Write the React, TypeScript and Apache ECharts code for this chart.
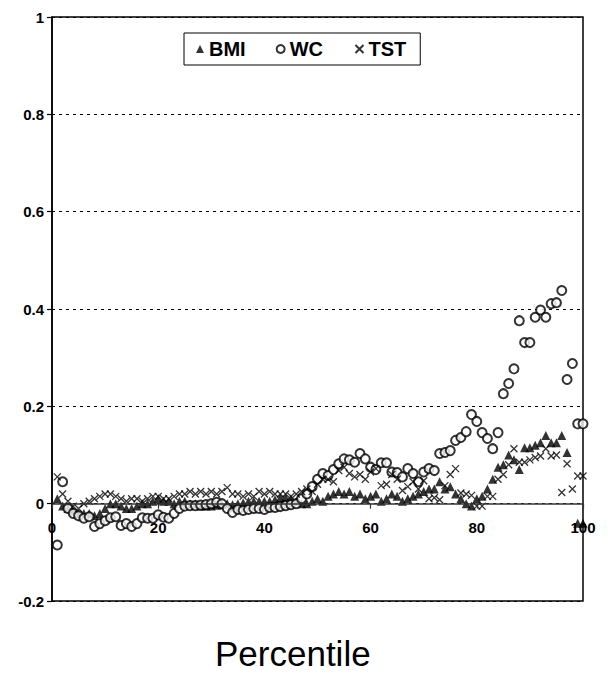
import React, { useEffect, useRef } from "react";
import * as echarts from "echarts";

// Percentile positions 1..100
const percentiles: number[] = Array.from({ length: 100 }, (_, i) => i + 1);

// Correlation-style coefficients per percentile for each measure
const bmiValues: (number | null)[] = [
  0.01, -0.005, -0.01, -0.015, -0.02, -0.02, -0.02, -0.025, -0.02, -0.01,
  0.0, 0.0, -0.005, -0.01, -0.01, -0.005, 0.0, 0.0, 0.005, 0.01,
  0.005, 0.005, 0.0, 0.005, 0.005, 0.0, 0.0, -0.005, -0.005, -0.005,
  -0.003, -0.002, 0.0, -0.002, 0.0, 0.002, 0.005, 0.005, 0.005, 0.005,
  0.005, 0.008, 0.012, 0.012, 0.01, 0.005, 0.0, 0.0, 0.005, 0.01,
  0.005, 0.015, 0.02, 0.025, 0.02, 0.025, 0.015, 0.02, 0.01, 0.015,
  0.02, 0.005, 0.01, 0.02, 0.015, 0.005, 0.01, 0.015, 0.02, 0.025,
  0.03, 0.03, 0.045, 0.03, 0.035, 0.02, 0.01, 0.0, -0.005, 0.01,
  0.015, 0.03, 0.05, 0.075, 0.08, 0.1, 0.09, 0.07, 0.115, 0.115,
  0.12, 0.125, 0.14, 0.125, 0.125, 0.14, 0.105, null, -0.04, -0.04,
];

const wcValues: (number | null)[] = [
  -0.085, 0.045, -0.01, -0.02, -0.025, -0.03, -0.027, -0.047, -0.041, -0.035,
  -0.029, -0.027, -0.045, -0.041, -0.047, -0.041, -0.029, -0.03, -0.03, -0.023,
  -0.028, -0.03, -0.02, -0.01, -0.005, -0.004, -0.004, -0.003, -0.002, 0.0,
  0.003, 0.0, -0.01, -0.018, -0.012, -0.014, -0.012, -0.01, -0.01, -0.012,
  -0.008, -0.008, -0.006, -0.004, -0.002, 0.0, 0.01, 0.02, 0.035, 0.05,
  0.062, 0.058, 0.07, 0.082, 0.092, 0.09, 0.085, 0.103, 0.092, 0.075,
  0.07, 0.084, 0.084, 0.065, 0.064, 0.055, 0.072, 0.062, 0.045, 0.065,
  0.072, 0.068, 0.103, 0.105, 0.109, 0.13, 0.136, 0.148, 0.183, 0.169,
  0.146, 0.134, 0.113, 0.146, 0.226, 0.247, 0.277, 0.376, 0.331, 0.331,
  0.383, 0.398, 0.383, 0.411, 0.413, 0.438, 0.255, 0.288, 0.164, 0.164,
];

const tstValues: (number | null)[] = [
  0.055, 0.02, 0.005, -0.005, -0.01, 0.0, 0.005, 0.01, 0.015, 0.02,
  0.02, 0.015, 0.01, 0.005, 0.01, 0.01, 0.005, 0.01, 0.015, 0.015,
  0.01, 0.01, 0.015, 0.02, 0.02, 0.025, 0.02, 0.025, 0.02, 0.025,
  0.02, 0.025, 0.033, 0.02, 0.02, 0.015, 0.02, 0.015, 0.025, 0.02,
  0.025, 0.02, 0.02, 0.02, 0.015, 0.02, 0.025, 0.03, 0.025, 0.04,
  0.05, 0.05, 0.045, 0.068, 0.075, 0.062, 0.055, 0.06, 0.05, 0.065,
  0.072, 0.037, 0.04, 0.06, 0.05, 0.027, 0.035, 0.045, 0.03, 0.047,
  0.01, 0.012, 0.008, 0.037, 0.06, 0.072, 0.022, 0.02, 0.017, -0.005,
  -0.005, 0.015, 0.015, 0.05, 0.06, 0.08, 0.113, 0.085, 0.085, 0.09,
  0.095, 0.098, 0.113, 0.098, 0.1, 0.023, 0.082, 0.03, 0.057, 0.057,
];

const seriesNames: string[] = ["BMI", "WC", "TST"];
const xTicks: number[] = [0, 20, 40, 60, 80, 100];
const yTickLabels: string[] = ["-0.2", "0", "0.2", "0.4", "0.6", "0.8", "1"];

const FONT = "'Liberation Sans', Arial, sans-serif";
const CROSS = "path://M0,0L10,10M10,0L0,10";

const GRID_TOP = 17;
const GRID_BOTTOM = 74;
const CHART_H = 675;
const Y_MIN = -0.2;
const Y_MAX = 1;

function toPairs(values: (number | null)[]): [number, number][] {
  const out: [number, number][] = [];
  values.forEach((v, i) => {
    if (v !== null) out.push([percentiles[i], v]);
  });
  return out;
}

export default function App() {
  const ref = useRef<HTMLDivElement>(null);

  useEffect(() => {
    if (!ref.current) return;
    const chart = echarts.init(ref.current, null, { renderer: "svg" });
    // distance from the plot's lower edge up to the zero line, so that the
    // x axis (line, ticks and labels) sits on the zero crossing
    const plotH = CHART_H - GRID_TOP - GRID_BOTTOM;
    const zeroLift = (plotH * (0 - Y_MIN)) / (Y_MAX - Y_MIN);
    chart.setOption({
      animation: false,
      backgroundColor: "#fff",
      grid: {
        left: 52,
        right: 28,
        top: GRID_TOP,
        bottom: GRID_BOTTOM,
        show: true,
        borderColor: "#000",
        borderWidth: 1.5,
        backgroundColor: "transparent",
      },
      legend: {
        left: 184,
        top: 33,
        orient: "horizontal",
        padding: [6, 14, 6, 12],
        borderColor: "#000",
        borderWidth: 1,
        backgroundColor: "#fff",
        itemWidth: 8,
        itemHeight: 8,
        itemGap: 30,
        textStyle: {
          fontFamily: FONT,
          fontWeight: "bold",
          fontSize: 20,
          color: "#000",
        },
        data: [
          { name: seriesNames[0], icon: "triangle" },
          { name: seriesNames[1], icon: "emptyCircle" },
          { name: seriesNames[2], icon: CROSS },
        ],
      },
      xAxis: {
        type: "value",
        min: 0,
        max: 100,
        interval: 20,
        z: 5,
        axisLine: { onZero: false, lineStyle: { color: "#333", width: 1.5 } },
        offset: -zeroLift,
        axisTick: { show: true, length: 5, lineStyle: { color: "#333", width: 1.2 } },
        splitLine: { show: false },
        axisLabel: {
          fontFamily: FONT,
          fontWeight: "bold",
          fontSize: 15,
          color: "#000",
          margin: 16,
          formatter: (v: number) => (xTicks.includes(v) ? String(v) : ""),
        },
      },
      yAxis: {
        type: "value",
        min: Y_MIN,
        max: Y_MAX,
        interval: 0.2,
        axisLine: { show: true, lineStyle: { color: "#000", width: 1.5 } },
        axisTick: { show: true, length: 5, lineStyle: { color: "#000", width: 1.2 } },
        splitLine: {
          show: true,
          lineStyle: { color: "#000", width: 1.2, type: [3, 4] },
        },
        axisLabel: {
          fontFamily: FONT,
          fontWeight: "bold",
          fontSize: 15,
          color: "#000",
          margin: 8,
          formatter: (v: number) => {
            const idx = Math.round((v - Y_MIN) / 0.2);
            return yTickLabels[idx] ?? "";
          },
        },
      },
      graphic: [
        {
          type: "text",
          left: 215,
          top: 636,
          style: {
            text: "Percentile",
            fontFamily: FONT,
            fontSize: 35,
            fill: "#000",
          },
        },
      ],
      series: [
        {
          name: seriesNames[0],
          type: "scatter",
          symbol: "triangle",
          symbolSize: 9,
          itemStyle: { color: "#000" },
          data: toPairs(bmiValues),
          z: 2,
        },
        {
          name: seriesNames[1],
          type: "scatter",
          symbol: "emptyCircle",
          symbolSize: 9,
          itemStyle: { color: "#000", borderColor: "#000", borderWidth: 1.3 },
          data: toPairs(wcValues),
          z: 3,
        },
        {
          name: seriesNames[2],
          type: "scatter",
          symbol: CROSS,
          symbolSize: 7,
          itemStyle: { color: "none", borderColor: "#000", borderWidth: 1.3 },
          data: toPairs(tstValues),
          z: 4,
        },
      ],
    });
    return () => chart.dispose();
  }, []);

  return (
    <div
      ref={ref}
      style={{ position: "fixed", left: 0, top: 0, width: 611, height: 675 }}
    />
  );
}
